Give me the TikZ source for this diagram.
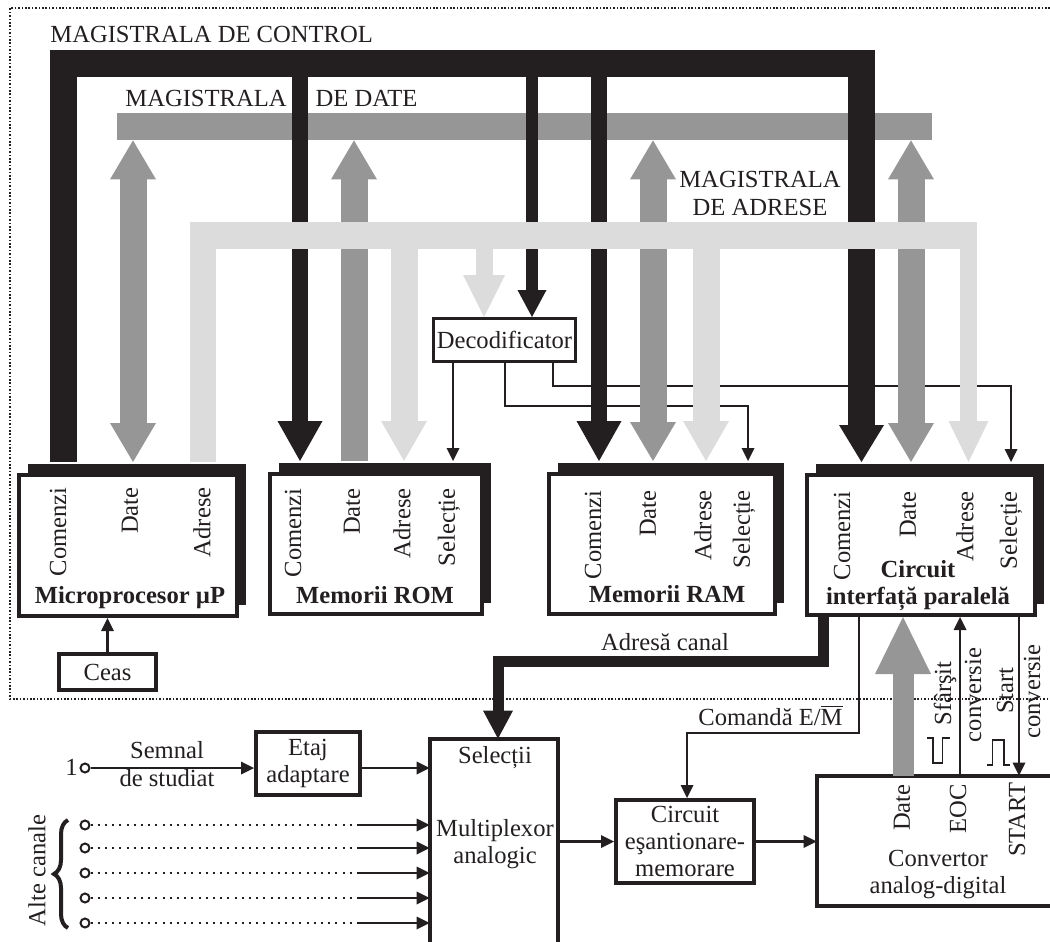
\documentclass[tikz,border=0pt]{standalone}
\usepackage{fontspec}
\setmainfont{Liberation Serif}
\usetikzlibrary{arrows.meta,shadows,calc,decorations.pathreplacing}
\definecolor{ink}{RGB}{35,31,32}
\definecolor{dgray}{RGB}{150,150,150}
\definecolor{lgray}{RGB}{220,220,220}
\tikzset{
  txt/.style={font=\fontsize{12.3}{13.5}\selectfont, inner sep=0pt, text=ink},
  ttl/.style={font=\fontsize{12.3}{13.5}\selectfont\bfseries, inner sep=0pt, text=ink, align=center},
  vlab/.style={txt, rotate=90, anchor=east},
  vtxt/.style={txt, rotate=90},
  unit/.style={draw=ink, line width=2pt, fill=white, inner sep=0pt,
    drop shadow={fill=ink, opacity=1, shadow xshift=4.5pt, shadow yshift=5.5pt}},
  blk/.style={draw=ink, line width=2pt, fill=white, inner sep=0pt, align=center,
    font=\fontsize{12.3}{13.5}\selectfont, text=ink},
  busbar/.style={fill=#1, inner sep=0pt, draw=none},
  wire/.style={draw=ink, line width=1.1pt},
  warr/.style={wire, -{Triangle[length=6.5pt,width=6.5pt,line width=0pt]}},
  circ/.style={circle, draw=ink, line width=1pt, fill=white, minimum size=4.5pt, inner sep=0pt},
  tipD/.style={-{Triangle[length=19.5pt,width=23pt,line width=0pt]}},
  tipDD/.style={{Triangle[length=19.5pt,width=23pt,line width=0pt]}-{Triangle[length=19.5pt,width=23pt,line width=0pt]}},
  tipC/.style={-{Triangle[length=20pt,width=22.5pt,line width=0pt]}},
  tipA/.style={-{Triangle[length=20pt,width=23pt,line width=0pt]}},
}
\begin{document}
\begin{tikzpicture}[x=0.5pt,y=-0.5pt]
\useasboundingbox (0,0) rectangle (1050,942);

% dotted frame of the computer part
\draw[ink, line width=0.85pt, dash pattern=on 0.85pt off 0.85pt] (1050,8) -- (10,8) -- (10,699) -- (1050,699);

% ---------- units with shadow ----------
\node[unit, minimum width=109pt, minimum height=70.5pt] (up) at (128,545.5) {};
\node[unit, minimum width=106pt, minimum height=70pt] (rom) at (376,544) {};
\node[unit, minimum width=113pt, minimum height=70pt] (ram) at (662,544) {};
\node[unit, minimum width=114pt, minimum height=70pt] (io) at (921,545) {};
\path (up.north) ++(0pt,5.5pt) coordinate (upS);
\path (rom.north) ++(0pt,5.5pt) coordinate (romS);
\path (ram.north) ++(0pt,5.5pt) coordinate (ramS);
\path (io.north) ++(0pt,5.5pt) coordinate (ioS);

\node[vlab] at (58,487) {Comenzi};
\node[vlab] at (130,487) {Date};
\node[vlab] at (202,487) {Adrese};
\node[ttl, anchor=base] at (130,603) {Microprocesor µP};

\node[vlab] at (293,488) {Comenzi};
\node[vlab] at (352,488) {Date};
\node[vlab] at (402,488) {Adrese};
\node[vlab] at (449,488) {Selecție};
\node[ttl, anchor=base] at (375,603) {Memorii ROM};

\node[vlab] at (593,490) {Comenzi};
\node[vlab] at (648,490) {Date};
\node[vlab] at (703,490) {Adrese};
\node[vlab] at (744,490) {Selecție};
\node[ttl, anchor=base] at (667,602) {Memorii RAM};

\node[vlab] at (842,491) {Comenzi};
\node[vlab] at (908,491) {Date};
\node[vlab] at (965,491) {Adrese};
\node[vlab] at (1011,491) {Selecție};
\node[ttl] at (918,586) {Circuit\\interfață paralelă};

% ---------- other blocks ----------
\node[blk, line width=1.5pt, minimum width=71pt, minimum height=21.5pt] (dec) at (504.5,340) {Decodificator};
\node[blk, minimum width=48.5pt, minimum height=18pt] (ceas) at (107.5,672) {Ceas};
\node[blk, minimum width=52pt, minimum height=31.5pt] (etaj) at (308,763.5) {Etaj\\adaptare};
\node[blk, minimum width=69pt, minimum height=41.5pt] (cs) at (685,841.5) {Circuit\\eşantionare-\\memorare};
\node[minimum width=64pt, minimum height=101.5pt, inner sep=0pt] (mux) at (494,840.5) {};
\draw[ink, line width=2pt] (mux.south west) -- (mux.north west) -- (mux.north east) -- (mux.south east);
\node[minimum width=116.5pt, minimum height=65pt, inner sep=0pt] (adc) at (933.5,841) {};
\draw[ink, line width=2pt] (adc.north east) -- (adc.north west) -- (adc.south west) -- (adc.south east);

\node[txt, anchor=base] at (495,763) {Selecții};
\node[txt, align=center] at (495,844) {Multiplexor\\analogic};
\node[txt, align=center] at (938,874.5) {Convertor\\analog-digital};
\node[vlab] at (902,784) {Date};
\node[vlab] at (958,784) {EOC};
\node[vlab] at (1017,782) {START};

% ---------- lane coordinates ----------
\coordinate (cbL) at (63.5,63.5);
\coordinate (cbR) at (861.5,63.5);
\coordinate (xUd) at (133,0);
\coordinate (xUa) at (203,0);
\coordinate (xRc) at (300,0);
\coordinate (xRd) at (354,0);
\coordinate (xRa) at (404,0);
\coordinate (xRs) at (453,0);
\coordinate (xDa) at (484,0);
\coordinate (xD2) at (505,0);
\coordinate (xDc) at (532,0);
\coordinate (xD3) at (553,0);
\coordinate (xMc) at (599,0);
\coordinate (xMd) at (653,0);
\coordinate (xMa) at (706,0);
\coordinate (kM) at (748,406);
\coordinate (xId) at (911,0);
\coordinate (xIa) at (968.5,0);
\coordinate (kI) at (1011,386);

% ---------- decoder selection wires (behind the buses) ----------
\draw[warr] (dec.south -| xRs) -- (xRs |- romS);
\draw[warr] (dec.south -| xD2) |- (kM) -- (kM |- ramS);
\draw[warr] (dec.south -| xD3) |- (kI) -- (kI |- ioS);

% ---------- data bus ----------
\node[busbar=dgray, minimum width=407.5pt, minimum height=13.5pt] (db) at (524.5,126.5) {};
\draw[dgray, line width=13.5pt, tipDD] (xUd |- db.south) -- (xUd |- upS);
\draw[dgray, line width=13.5pt, tipD] (xRd |- romS) -- (xRd |- db.south);
\draw[dgray, line width=13.5pt, tipDD] (xMd |- db.south) -- (xMd |- ramS);
\draw[dgray, line width=13.5pt, tipDD] (xId |- db.south) -- (xId |- ioS);

% ---------- control bus ----------
\draw[ink, line width=13.5pt, line join=miter, -{Triangle[length=18.5pt,width=22.5pt,line width=0pt]}]
  (cbL |- upS) -- (cbL) -- (cbR) -- (cbR |- ioS);
\draw[ink, line width=8pt, tipC] (xRc |- cbL) -- (xRc |- romS);
\draw[ink, line width=6pt, -{Triangle[length=13.5pt,width=14.5pt,line width=0pt]}] (xDc |- cbL) -- (xDc |- dec.north);
\draw[ink, line width=8pt, tipC] (xMc |- cbL) -- (xMc |- ramS);

% ---------- address bus ----------
\node[busbar=lgray, minimum width=393.5pt, minimum height=13.5pt] (ab) at (583.5,235.5) {};
\draw[lgray, line width=13pt] (xUa |- ab.center) -- (xUa |- upS);
\draw[lgray, line width=13.5pt, tipA] (xRa |- ab.center) -- (xRa |- romS);
\draw[lgray, line width=8.5pt, -{Triangle[length=21pt,width=21pt,line width=0pt]}] (xDa |- ab.center) -- (xDa |- dec.north);
\draw[lgray, line width=13.5pt, tipA] (xMa |- ab.center) -- (xMa |- ramS);
\draw[lgray, line width=8.5pt, -{Triangle[length=20.5pt,width=20pt,line width=0pt]}] (xIa |- ab.center) -- (xIa |- ioS);

% bus labels
\node[txt, anchor=base west] at (50,42) {MAGISTRALA DE CONTROL};
\node[txt, anchor=base west] at (125,106) {MAGISTRALA\hspace{14.5pt}DE DATE};
\node[txt, align=center, font=\fontsize{12.3}{14}\selectfont] at (760,193) {MAGISTRALA\\DE ADRESE};

% clock
\draw[warr] (ceas.north) -- (ceas.north |- up.south);

% ---------- acquisition part ----------
\coordinate (xAC) at (823.5,0);
\coordinate (kAC) at (498,661.5);
\draw[ink, line width=5.5pt, line join=miter, -{Triangle[length=14pt,width=15pt,line width=0pt]}]
  (io.south -| xAC) |- (kAC) -- (kAC |- mux.north);
\node[txt, anchor=base] at (665,650) {Adresă canal};

\coordinate (xCM) at (859,0);
\coordinate (kCM) at (687,733);
\draw[warr] (io.south -| xCM) |- (kCM) -- (kCM |- cs.north);
\node[txt, anchor=base] at (770.5,725) {Comandă E/$\overline{\hbox{M}}$};

\coordinate (xAd) at (903,0);
\coordinate (xE) at (960,0);
\coordinate (xS) at (1019,0);
\draw[dgray, line width=10.5pt, -{Triangle[length=28.5pt,width=28pt,line width=0pt]}] (adc.north -| xAd) -- (xAd |- io.south);
\draw[warr] (adc.north -| xE) -- (xE |- io.south);
\draw[warr] (io.south -| xS) -- (xS |- adc.north);
\node[vtxt] at (945,693.5) {Sfârşit};
\node[vtxt] at (973,695) {conversie};
\node[vtxt] at (1005,690.5) {Start};
\node[vtxt] at (1032,691.5) {conversie};
\draw[ink, line width=0.9pt] (927,738) -- (933,738) -- (933,763) -- (942.5,763) -- (942.5,738) -- (950,738);
\draw[ink, line width=0.9pt] (987,765) -- (992.5,765) -- (992.5,740) -- (1004,740) -- (1004,765) -- (1010,765);

\draw[warr] (cs.west -| mux.east) -- (cs.west);
\draw[warr] (cs.east) -- (cs.east -| adc.west);

% inputs
\node[circ] (in1) at (85,768) {};
\node[txt, anchor=base east] at (78,775) {1};
\draw[warr] (in1.east) -- (in1 -| etaj.west);
\draw[warr] (in1 -| etaj.east) -- (in1 -| mux.west);
\node[txt, align=center, font=\fontsize{12.3}{14}\selectfont] at (167,764) {Semnal\\de studiat};

\foreach \i/\yy in {1/825,2/848,3/873,4/898,5/923}{
  \node[circ] (ch\i) at (85,\yy) {};
  \coordinate (cd\i) at (358,\yy);
  \draw[ink, line width=1pt, dash pattern=on 1pt off 2.6pt] (ch\i.east) -- (cd\i);
  \draw[warr] (cd\i) -- (cd\i -| mux.west);
}
\draw[ink, line width=2pt, decorate, decoration={brace, amplitude=7pt}] (68,928) -- (68,820);
\node[vtxt] at (37,870.5) {Alte canale};
\end{tikzpicture}
\end{document}
